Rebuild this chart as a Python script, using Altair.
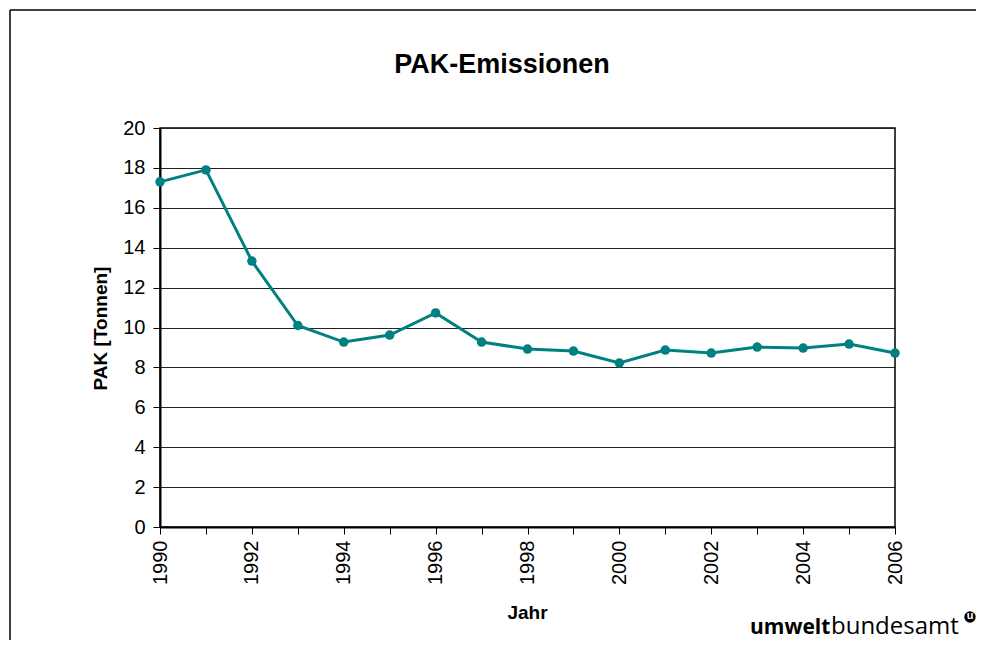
import altair as alt
import pandas as pd

years = list(range(1990, 2007))
values = [17.3, 17.9, 13.33, 10.1, 9.27, 9.62, 10.73, 9.27, 8.92, 8.82,
          8.22, 8.87, 8.72, 9.02, 8.97, 9.17, 8.72]
y_ticks = list(range(0, 21, 2))

df = pd.DataFrame({"Jahr": years, "PAK": values})
one = pd.DataFrame({"k": [0]})

FONT = "Liberation Sans"
TEAL = "#008080"

x = alt.X("Jahr:Q",
          scale=alt.Scale(domain=[1990, 2006], nice=False, zero=False),
          axis=alt.Axis(values=years, format="d",
                        labelExpr="datum.value % 2 == 0 ? datum.label : ''",
                        labelAngle=270, labelPadding=6, grid=False,
                        title="Jahr", titleX=367, titleY=85,
                        titleBaseline="middle", titleAlign="center"))
y = alt.Y("PAK:Q",
          scale=alt.Scale(domain=[0, 20], nice=False),
          axis=alt.Axis(values=y_ticks, grid=True, gridColor="#222",
                        gridWidth=1, labelPadding=8,
                        title="PAK [Tonnen]", titleAngle=270, titleX=-60,
                        titleY=200, titleBaseline="middle",
                        titleAlign="center"))

base = alt.Chart(df).encode(x=x, y=y)
line = base.mark_line(color=TEAL, strokeWidth=3)
pts = base.mark_point(color=TEAL, filled=True, opacity=1, size=90)

border_left = alt.Chart(one).mark_rule(color="black", strokeWidth=1.5).encode(
    x=alt.value(-150), y=alt.value(-118), y2=alt.value(540))
border_top = alt.Chart(one).mark_rule(color="black", strokeWidth=1.5).encode(
    x=alt.value(-150), x2=alt.value(816), y=alt.value(-118))

title = alt.Chart(one).mark_text(text="PAK-Emissionen", font=FONT,
                                 fontSize=27, fontWeight="bold",
                                 color="black", align="center",
                                 baseline="middle").encode(
    x=alt.value(342), y=alt.value(-63))

logo1 = alt.Chart(one).mark_text(text="umwelt", font="Open Sans",
                                 fontSize=21, fontWeight="bold",
                                 color="black", align="left",
                                 baseline="alphabetic").encode(
    x=alt.value(590), y=alt.value(506))
logo2 = alt.Chart(one).mark_text(text="bundesamt", font="Open Sans",
                                 fontSize=24, fontWeight="normal",
                                 color="black", align="left",
                                 baseline="alphabetic").encode(
    x=alt.value(671), y=alt.value(506))
logo_dot = alt.Chart(one).mark_point(shape="circle", filled=True,
                                     color="black", opacity=1,
                                     size=130).encode(
    x=alt.value(810), y=alt.value(489))
logo_u = alt.Chart(one).mark_text(text="u", font=FONT, fontSize=11,
                                  fontWeight="bold", color="white",
                                  align="center", baseline="middle").encode(
    x=alt.value(810), y=alt.value(488))

chart = alt.layer(border_left, border_top, line, pts, title, logo1, logo2,
                  logo_dot, logo_u).properties(
    width=735, height=399,
    autosize=alt.AutoSizeParams(type="none"),
    padding={"left": 152, "top": 120, "right": 81, "bottom": 113},
).configure(background="white").configure_view(
    stroke="black", strokeWidth=1.5
).configure_axis(
    labelFont=FONT, labelFontSize=20, labelColor="black",
    labelOverlap=False, tickSize=7, tickColor="black", tickWidth=1,
    domainColor="black", domainWidth=2,
    titleFont=FONT, titleFontSize=19, titleFontWeight="bold",
    titleColor="black",
)

chart.save("out.html", embed_options={"renderer": "svg", "actions": False})
